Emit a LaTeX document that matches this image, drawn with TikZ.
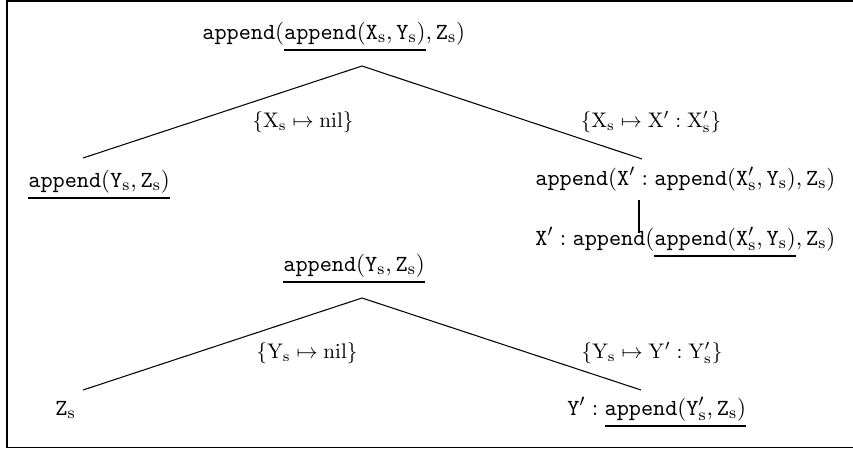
\documentclass[tikz,border=0pt]{standalone}
\usepackage{amsmath}
\usepackage{amssymb}
\usetikzlibrary{positioning}
\newcommand{\appd}{\mathtt{append}}
\newcommand{\sv}[1]{\mathtt{#1}_{\mathrm{s}}}
\newcommand{\svp}[1]{\mathtt{#1}'_{\mathrm{s}}}
\newcommand{\rv}[1]{\mathrm{#1}_{\mathrm{s}}}
\newcommand{\undl}[1]{\mathord{\vtop{\hbox{$#1$}\kern2.2pt\hrule height 0.9pt}}}
\tikzset{
  term/.style={font=\fontsize{11.2}{13}\selectfont, inner sep=0pt, anchor=base west},
  subst/.style={inner sep=0pt},
  edge/.style={line width=0.5pt}
}
\begin{document}
\begin{tikzpicture}[x=0.016667cm, y=-0.016667cm]
            \useasboundingbox (0,0) rectangle (853,451);
            % Frame (open on the right)
            \draw[line width=0.9pt] (853,1) -- (7,1) -- (7,447.5) -- (853,447.5);

            % First derivation
            \node[term] (r1) at (202,39) {$\appd(\undl{\appd(\sv{X}, \sv{Y})}, \sv{Z})$};
            \node[term] (l1) at (28,187) {$\undl{\appd(\sv{Y}, \sv{Z})}$};
            \node[term] (c1) at (535,185) {$\appd(\mathtt{X}' : \appd(\svp{X}, \sv{Y}), \sv{Z})$};
            \node[term] (c2) at (535,245) {$\mathtt{X}' : \appd(\undl{\appd(\svp{X}, \sv{Y})}, \sv{Z})$};
            \coordinate (t1) at (362,66);
            \coordinate (e1l) at (83,158);
            \coordinate (e1r) at (642,159);
            \coordinate (v1a) at (639,200);
            \coordinate (v1b) at (639,233);

            % Second derivation
            \node[term] (r2) at (283,271) {$\undl{\appd(\sv{Y}, \sv{Z})}$};
            \node[term] (l2) at (55,415) {$\sv{Z}$};
            \node[term] (c3) at (567,415) {$\mathtt{Y}' : \undl{\appd(\svp{Y}, \sv{Z})}$};
            \coordinate (t2) at (362,298);
            \coordinate (e2l) at (83,390);
            \coordinate (e2r) at (641,390);

            % Edges
            \draw[edge] (t1) -- (e1l);
            \draw[edge] (t1) -- (e1r);
            \draw[line width=0.9pt] (v1a) -- (v1b);
            \draw[edge] (t2) -- (e2l);
            \draw[edge] (t2) -- (e2r);

            % Substitutions
            \node[subst] (s1) at (303,122) {$\{\rv{X} \mapsto \mathrm{nil}\}$};
            \node[subst] (s2) at (651,122) {$\{\rv{X} \mapsto \mathrm{X}' : \mathrm{X}'_{\mathrm{s}}\}$};
            \node[subst] (s3) at (307,353) {$\{\rv{Y} \mapsto \mathrm{nil}\}$};
            \node[subst] (s4) at (652,353) {$\{\rv{Y} \mapsto \mathrm{Y}' : \mathrm{Y}'_{\mathrm{s}}\}$};
        \end{tikzpicture}
\end{document}
